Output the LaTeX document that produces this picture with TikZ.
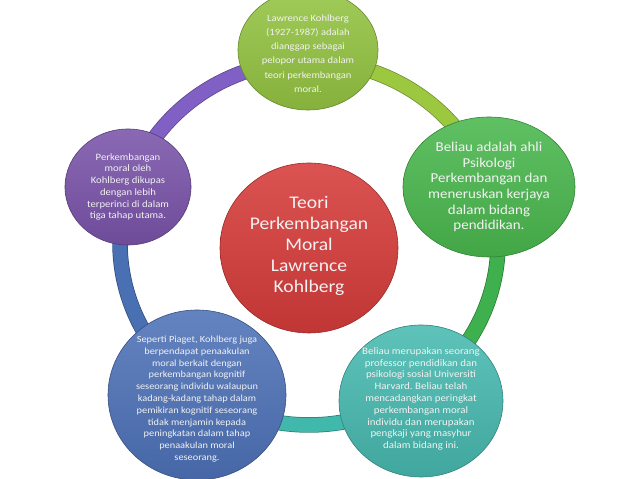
\documentclass[tikz,border=0pt]{standalone}
\usepackage{fontspec}
\setmainfont{Carlito}[FakeStretch=1.1]
\usetikzlibrary{shapes.geometric,calc}
\frenchspacing

\definecolor{cRed}{RGB}{214,60,58}
\definecolor{cTop}{RGB}{148,196,66}
\definecolor{cRight}{RGB}{74,184,78}
\definecolor{cTeal}{RGB}{72,186,176}
\definecolor{cBlue}{RGB}{78,114,184}
\definecolor{cPurple}{RGB}{122,84,170}
\definecolor{rTop}{RGB}{156,200,64}
\definecolor{rRight}{RGB}{62,176,78}
\definecolor{rTeal}{RGB}{64,184,172}
\definecolor{rBlue}{RGB}{74,112,180}
\definecolor{rPurple}{RGB}{128,96,196}

\tikzset{
  bubble/.style={ellipse, draw=#1!70!black, line width=0.6pt,
    top color=#1!88!white, bottom color=#1!90!black, inner sep=0pt},
  ringarc/.style={line width=14pt, draw=#1},
  ringedge/.style={line width=15.5pt, draw=#1!70!black},
  txt/.style={text=white!95!black, align=center, inner sep=0pt},
}

\begin{document}
\begin{tikzpicture}[x=1pt, y=1pt]
  \useasboundingbox (0, 0) rectangle (638, 479);
  \clip (0, 0) rectangle (638, 479);

  % 輪
  \coordinate (ring) at (309, 236);
  \coordinate (pTop) at ($(ring)+(90:189pt and 182pt)$);
  \coordinate (pRight) at ($(ring)+(17.9:189pt and 182pt)$);
  \coordinate (pTeal) at ($(ring)+(-55.7:189pt and 182pt)$);
  \coordinate (pBlue) at ($(ring)+(-125.4:189pt and 182pt)$);
  \coordinate (pPurple) at ($(ring)+(162.2:189pt and 182pt)$);

  \draw[ringedge=rTop] (pTop) arc[start angle=90, end angle=17.9, x radius=189pt, y radius=182pt];
  \draw[ringedge=rRight] (pRight) arc[start angle=17.9, end angle=-55.7, x radius=189pt, y radius=182pt];
  \draw[ringedge=rTeal] (pTeal) arc[start angle=-55.7, end angle=-125.4, x radius=189pt, y radius=182pt];
  \draw[ringedge=rBlue] (pBlue) arc[start angle=-125.4, end angle=-197.8, x radius=189pt, y radius=182pt];
  \draw[ringedge=rPurple] (pPurple) arc[start angle=162.2, end angle=90, x radius=189pt, y radius=182pt];

  \draw[ringarc=rTop] (pTop) arc[start angle=90, end angle=17.9, x radius=189pt, y radius=182pt];
  \draw[ringarc=rRight] (pRight) arc[start angle=17.9, end angle=-55.7, x radius=189pt, y radius=182pt];
  \draw[ringarc=rTeal] (pTeal) arc[start angle=-55.7, end angle=-125.4, x radius=189pt, y radius=182pt];
  \draw[ringarc=rBlue] (pBlue) arc[start angle=-125.4, end angle=-197.8, x radius=189pt, y radius=182pt];
  \draw[ringarc=rPurple] (pPurple) arc[start angle=162.2, end angle=90, x radius=189pt, y radius=182pt];

  % 円
  \node[bubble=cTop, minimum width=140pt, minimum height=120pt] (top) at (308, 429) {};
  \node[bubble=cRight, minimum width=172pt, minimum height=140pt] (right) at (489, 292) {};
  \node[bubble=cTeal, minimum width=164pt, minimum height=152pt] (teal) at (421, 78) {};
  \node[bubble=cBlue, minimum width=178pt, minimum height=170pt] (blue) at (197, 84) {};
  \node[bubble=cPurple, minimum width=126pt, minimum height=116pt] (purple) at (128, 292) {};
  \node[bubble=cRed, minimum width=178pt, minimum height=170pt] (centre) at (309, 231) {};

  % 文字
  \node[txt, font=\fontsize{9.6}{14.2}\selectfont] (topText) at ($(top)+(0, -3.5)$)
    {Lawrence Kohlberg\\(1927-1987) adalah\\dianggap sebagai\\pelopor utama dalam\\teori perkembangan\\moral.};
  \node[txt, font=\fontsize{13.6}{15.6}\selectfont] (rightText) at (right)
    {Beliau adalah ahli\\Psikologi\\Perkembangan dan\\meneruskan kerjaya\\dalam bidang\\pendidikan.};
  \node[txt, font=\fontsize{9.9}{11.8}\selectfont] (tealText) at ($(teal)+(0, 2)$)
    {Beliau merupakan seorang\\professor pendidikan dan\\psikologi sosial Universiti\\Harvard. Beliau telah\\mencadangkan peringkat\\perkembangan moral\\individu dan merupakan\\pengkaji yang masyhur\\dalam bidang ini.};
  \node[txt, font=\fontsize{9.4}{11.8}\selectfont] (blueText) at ($(blue)+(0, -4)$)
    {Seperti Piaget, Kohlberg juga\\berpendapat penaakulan\\moral berkait dengan\\perkembangan kognitif\\seseorang individu walaupun\\kadang-kadang tahap dalam\\pemikiran kognitif seseorang\\tidak menjamin kepada\\peningkatan dalam tahap\\penaakulan moral\\seseorang.};
  \node[txt, font=\fontsize{9.7}{11.7}\selectfont] (purpleText) at (purple)
    {Perkembangan\\moral oleh\\Kohlberg dikupas\\dengan lebih\\terperinci di dalam\\tiga tahap utama.};
  \node[txt, font=\fontsize{17.8}{21}\selectfont] (centreText) at ($(centre)+(0, 2.5)$)
    {Teori\\Perkembangan\\Moral\\Lawrence\\Kohlberg};

\end{tikzpicture}
\end{document}
